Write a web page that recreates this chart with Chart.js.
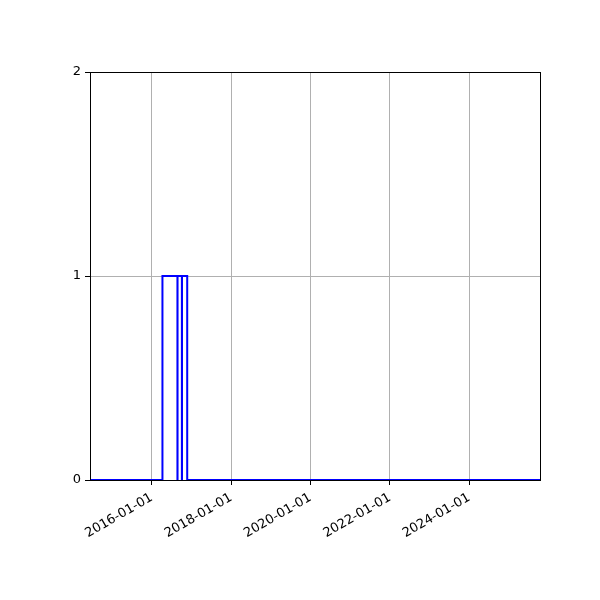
<!DOCTYPE html>
<html>
<head>
<meta charset="utf-8">
<script src="https://cdn.jsdelivr.net/npm/chart.js@4/dist/chart.umd.min.js"></script>
<style>
  body { margin: 0; background: #fff; }
  canvas { display: block; }
</style>
</head>
<body>
<canvas id="stepChart" width="600" height="600"></canvas>
<script>
// step series: value holds from each date until the next one
const stepDates = [
  "2014-06-11", "2016-04-08", "2016-08-24", "2016-08-25",
  "2016-10-04", "2016-10-05", "2016-11-22", "2025-10-14",
];
const stepValues = [0, 1, 0, 1, 0, 1, 0, 0];
const xTickDates = ["2016-01-01", "2018-01-01", "2020-01-01", "2022-01-01", "2024-01-01"];
const yTicks = [0, 1, 2];

const toMs = (d) => Date.parse(d + "T00:00:00Z");
const points = stepDates.map((d, i) => ({ x: toMs(d), y: stepValues[i] }));

const framePlugin = {
  id: "frame",
  afterDatasetsDraw(chart) {
    const { ctx, chartArea: a } = chart;
    ctx.save();
    ctx.strokeStyle = "#000";
    ctx.lineWidth = 1;
    ctx.strokeRect(a.left + 0.5, a.top + 0.5, a.right - a.left, a.bottom - a.top);
    ctx.restore();
  },
};

const config = {
  type: "line",
  data: {
    datasets: [
      {
        data: points,
        stepped: true,
        borderColor: "#0000ff",
        borderWidth: 2,
        pointRadius: 0,
        fill: false,
        clip: 4,
      },
    ],
  },
  options: {
    responsive: false,
    animation: false,
    layout: { padding: { top: 72, right: 60, left: 0, bottom: 0 } },
    plugins: { legend: { display: false }, tooltip: { enabled: false } },
    scales: {
      x: {
        type: "linear",
        min: points[0].x,
        max: points[points.length - 1].x,
        afterBuildTicks: (scale) => {
          scale.ticks = xTickDates.map((d) => ({ value: toMs(d) }));
        },
        afterFit: (scale) => { scale.height = 120; },
        ticks: {
          autoSkip: false,
          minRotation: 30,
          maxRotation: 30,
          padding: 5,
          color: "#000",
          font: { family: "DejaVu Sans", size: 13 },
          callback: (v) => new Date(v).toISOString().slice(0, 10),
        },
        grid: { color: "#b0b0b0", tickColor: "#000", tickLength: 5 },
        border: { display: false },
      },
      y: {
        min: 0,
        max: 2,
        afterBuildTicks: (scale) => {
          scale.ticks = yTicks.map((v) => ({ value: v }));
        },
        afterFit: (scale) => { scale.width = 90; },
        ticks: {
          padding: 4,
          color: "#000",
          font: { family: "DejaVu Sans", size: 13 },
        },
        grid: { color: "#b0b0b0", tickColor: "#000", tickLength: 5 },
        border: { display: false },
      },
    },
  },
  plugins: [framePlugin],
};

var myChart = new Chart(document.getElementById("stepChart"), config);
</script>
</body>
</html>
